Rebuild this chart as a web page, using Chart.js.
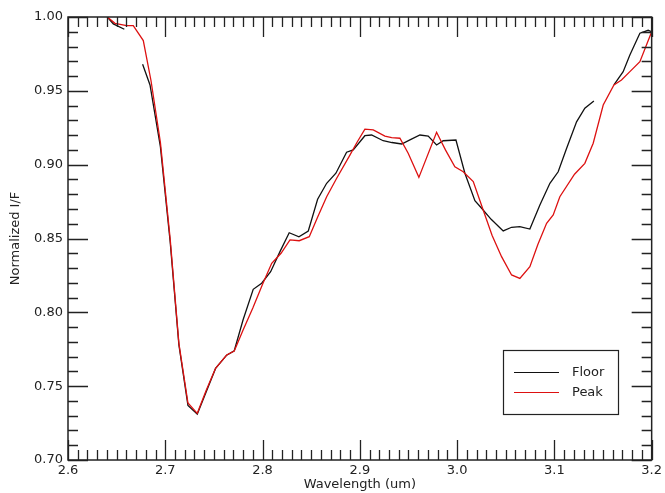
<!DOCTYPE html>
<html>
<head>
<meta charset="utf-8">
<script src="https://cdn.jsdelivr.net/npm/chart.js@4.4.3/dist/chart.umd.min.js"></script>
<style>
  html, body { margin: 0; padding: 0; background: #fff; }
  #chart { display: block; }
</style>
</head>
<body>
<canvas id="chart" width="665" height="493"></canvas>
<script>
// tick labels
const xTickLabels = ['2.6', '2.7', '2.8', '2.9', '3.0', '3.1', '3.2'];
const yTickLabels = ['0.70', '0.75', '0.80', '0.85', '0.90', '0.95', '1.00'];
const xMinorStep = 0.01;
const yMinorStep = 0.01;

// Floor spectrum (null = gap in the line)
const floorWl = [2.6404, 2.6466, 2.6579, 2.667, 2.6767, 2.6843, 2.695, 2.705, 2.714, 2.7233,
  2.7329, 2.742, 2.7517, 2.7631, 2.7709, 2.780, 2.7904, 2.7991, 2.8083, 2.8179,
  2.8274, 2.8374, 2.847, 2.8566, 2.8659, 2.8754, 2.8864, 2.8932, 2.9052, 2.9121,
  2.924, 2.933, 2.943, 2.952, 2.9618, 2.9703, 2.9789, 2.9857, 2.9988, 3.008,
  3.0183, 3.0252, 3.035, 3.0474, 3.056, 3.0645, 3.0748, 3.0851, 3.0954, 3.1039,
  3.1125, 3.1228, 3.1313, 3.1406, 3.150, 3.1612, 3.1707, 3.1776, 3.1879, 3.1964, 3.200];
const floorVal = [1.000, 0.9953, 0.9917, null, 0.968, 0.954, 0.912, 0.848, 0.778, 0.737,
  0.731, 0.746, 0.762, 0.771, 0.774, 0.795, 0.8156, 0.8197, 0.8275, 0.8411,
  0.8539, 0.8512, 0.8551, 0.8766, 0.8874, 0.8942, 0.9084, 0.910, 0.9196, 0.9201,
  0.9162, 0.915, 0.914, 0.917, 0.9201, 0.9194, 0.9133, 0.9162, 0.9167, 0.8942,
  0.8756, 0.8705, 0.863, 0.8551, 0.8576, 0.858, 0.8564, 0.8727, 0.8874, 0.8952,
  0.911, 0.929, 0.9382, 0.9431, null, 0.954, 0.963, 0.9743, 0.989, 0.991, 0.990];

// Peak spectrum
const peakWl = [2.6404, 2.6483, 2.6603, 2.6671, 2.6774, 2.6853, 2.695, 2.705, 2.714, 2.7233,
  2.7329, 2.742, 2.7517, 2.7631, 2.7709, 2.780, 2.790, 2.800, 2.8094, 2.819,
  2.8282, 2.8377, 2.848, 2.857, 2.8659, 2.8762, 2.8898, 2.897, 2.9052, 2.9138,
  2.9258, 2.9327, 2.9412, 2.9497, 2.9607, 2.9789, 2.988, 2.9977, 3.0063, 3.0166,
  3.0268, 3.036, 3.0457, 3.056, 3.0645, 3.0748, 3.083, 3.092, 3.0988, 3.1056,
  3.1207, 3.1313, 3.1399, 3.1502, 3.1612, 3.169, 3.1776, 3.1879, 3.200];
const peakVal = [1.000, 0.9957, 0.9941, 0.9941, 0.984, 0.957, 0.915, 0.850, 0.779, 0.7386,
  0.7316, 0.747, 0.7621, 0.7711, 0.7738, 0.788, 0.803, 0.819, 0.8332, 0.840,
  0.849, 0.8485, 0.8512, 0.865, 0.8783, 0.8908, 0.9065, 0.915, 0.9241, 0.9235,
  0.9194, 0.9183, 0.9179, 0.9077, 0.8914, 0.9219, 0.910, 0.8986, 0.8952, 0.8885,
  0.8693, 0.852, 0.8377, 0.8253, 0.823, 0.8309, 0.846, 0.8603, 0.8659, 0.8783,
  0.8935, 0.9009, 0.9145, 0.9404, 0.954, 0.9573, 0.963, 0.9697, 0.990];

const FONT = 'DejaVu Sans';
const INK = '#222';

function toPoints(xs, ys) {
    return xs.map((x, i) => ({ x: x, y: ys[i] }));
}

// inward ticks on all four sides + plot frame (IDL style)
const frameTicks = {
    id: 'frameTicks',
    afterDatasetsDraw(chart) {
        const { ctx, chartArea: a, scales: { x, y } } = chart;
        ctx.save();
        ctx.strokeStyle = INK;
        ctx.lineWidth = 1.3;
        ctx.beginPath();
        const xMin = Number(xTickLabels[0]), xMax = Number(xTickLabels[xTickLabels.length - 1]);
        const nx = Math.round((xMax - xMin) / xMinorStep);
        const perMajorX = Math.round((Number(xTickLabels[1]) - xMin) / xMinorStep);
        for (let i = 0; i <= nx; i++) {
            const px = Math.round(x.getPixelForValue(xMin + i * xMinorStep)) + 0.5;
            const len = i % perMajorX === 0 ? 20 : 10;
            ctx.moveTo(px, a.bottom); ctx.lineTo(px, a.bottom - len);
            ctx.moveTo(px, a.top); ctx.lineTo(px, a.top + len);
        }
        const yMin = Number(yTickLabels[0]), yMax = Number(yTickLabels[yTickLabels.length - 1]);
        const ny = Math.round((yMax - yMin) / yMinorStep);
        const perMajorY = Math.round((Number(yTickLabels[1]) - yMin) / yMinorStep);
        for (let i = 0; i <= ny; i++) {
            const py = Math.round(y.getPixelForValue(yMin + i * yMinorStep)) + 0.5;
            const len = i % perMajorY === 0 ? 20 : 10;
            ctx.moveTo(a.left, py); ctx.lineTo(a.left + len, py);
            ctx.moveTo(a.right, py); ctx.lineTo(a.right - len, py);
        }
        ctx.stroke();
        ctx.lineWidth = 1.5;
        ctx.strokeRect(a.left, a.top, a.right - a.left, a.bottom - a.top);
        ctx.restore();
    }
};

// boxed legend in the lower right
const boxLegend = {
    id: 'boxLegend',
    afterDraw(chart) {
        const { ctx } = chart;
        const bx = 503, by = 350, bw = 115, bh = 64;
        ctx.save();
        ctx.fillStyle = '#fff';
        ctx.fillRect(bx, by, bw, bh);
        ctx.strokeStyle = INK;
        ctx.lineWidth = 1.2;
        ctx.strokeRect(bx + 0.5, by + 0.5, bw, bh);
        ctx.font = '13px "' + FONT + '"';
        ctx.textBaseline = 'middle';
        chart.data.datasets.forEach((ds, i) => {
            const ly = by + 22.5 + i * 20;
            ctx.strokeStyle = ds.borderColor;
            ctx.lineWidth = 1.2;
            ctx.beginPath();
            ctx.moveTo(514, ly); ctx.lineTo(559, ly);
            ctx.stroke();
            ctx.fillStyle = INK;
            ctx.fillText(ds.label, 572, ly);
        });
        ctx.restore();
    }
};

new Chart(document.getElementById('chart'), {
    type: 'line',
    data: {
        datasets: [
            {
                label: 'Floor',
                data: toPoints(floorWl, floorVal),
                borderColor: '#111',
                borderWidth: 1.3,
                pointRadius: 0,
                tension: 0,
                spanGaps: false,
                order: 2
            },
            {
                label: 'Peak',
                data: toPoints(peakWl, peakVal),
                borderColor: '#dd1111',
                borderWidth: 1.3,
                pointRadius: 0,
                tension: 0,
                spanGaps: false,
                order: 1
            }
        ]
    },
    options: {
        responsive: false,
        animation: false,
        layout: { padding: { top: 17, right: 13, left: 0, bottom: 0 } },
        plugins: {
            legend: { display: false },
            tooltip: { enabled: false }
        },
        scales: {
            x: {
                type: 'linear',
                min: Number(xTickLabels[0]),
                max: Number(xTickLabels[xTickLabels.length - 1]),
                afterBuildTicks: (scale) => { scale.ticks = xTickLabels.map(v => ({ value: Number(v) })); },
                afterFit: (scale) => { scale.height = 33; },
                grid: { display: false, drawTicks: false },
                border: { display: false },
                ticks: {
                    padding: 3,
                    maxRotation: 0,
                    autoSkip: false,
                    color: INK,
                    font: { family: FONT, size: 13 },
                    callback: (v) => xTickLabels.find(t => Math.abs(Number(t) - v) < 1e-6) || ''
                },
                title: {
                    display: true,
                    text: 'Wavelength (um)',
                    color: INK,
                    font: { family: FONT, size: 13 },
                    padding: { top: 0, bottom: 1 }
                }
            },
            y: {
                type: 'linear',
                min: Number(yTickLabels[0]),
                max: Number(yTickLabels[yTickLabels.length - 1]),
                afterBuildTicks: (scale) => { scale.ticks = yTickLabels.map(v => ({ value: Number(v) })); },
                afterFit: (scale) => { scale.width = 68; },
                grid: { display: false, drawTicks: false },
                border: { display: false },
                ticks: {
                    padding: 5,
                    autoSkip: false,
                    color: INK,
                    font: { family: FONT, size: 13 },
                    callback: (v) => yTickLabels.find(t => Math.abs(Number(t) - v) < 1e-6) || ''
                },
                title: {
                    display: true,
                    text: 'Normalized I/F',
                    color: INK,
                    font: { family: FONT, size: 13 },
                    padding: { top: 8, bottom: 0 }
                }
            }
        }
    },
    plugins: [frameTicks, boxLegend]
});
</script>
</body>
</html>
